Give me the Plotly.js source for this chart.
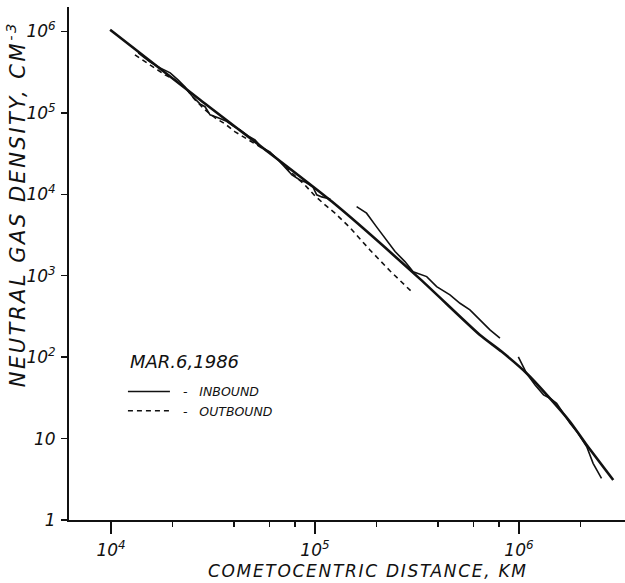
<!DOCTYPE html>
<html><head><meta charset="utf-8">
<script src="https://cdn.plot.ly/plotly-3.0.1.min.js"></script>
<style>
html,body{margin:0;padding:0;background:#fff;}
g.annotation[data-index="1"] text{letter-spacing:1.7px;}
g.annotation[data-index="2"] text{letter-spacing:2.5px;}
</style>
</head><body><div id="chart" style="width:625px;height:583px;"></div>
<script>
// Model (thick smooth line)
const modelDist = [9.9e3, 2.73e4, 1.21e5, 3.27e5, 6.44e5, 8.22e5, 1.09e6, 1.37e6, 1.78e6, 2.15e6, 2.90e6];
const modelDens = [1.05e6, 1.45e5, 8.13e3, 9.14e2, 1.87e2, 1.17e2, 63.4, 34.4, 16.1, 8.34, 3.10];

// Inbound measurements near nucleus (wiggly solid)
const inDist = [1.36e4, 1.55e4, 1.74e4, 1.95e4, 2.13e4, 2.31e4, 2.49e4, 2.73e4, 2.89e4, 3.06e4, 3.35e4, 3.66e4, 3.96e4, 4.29e4, 4.70e4, 5.08e4, 5.50e4, 6.01e4, 6.59e4, 7.13e4, 7.71e4, 8.44e4, 8.93e4, 9.77e4, 1.02e5, 1.08e5, 1.19e5];
const inDens = [5.46e5, 4.24e5, 3.57e5, 3.10e5, 2.54e5, 2.08e5, 1.62e5, 1.29e5, 1.19e5, 9.45e4, 8.68e4, 7.97e4, 6.92e4, 6.18e4, 5.21e4, 4.66e4, 3.72e4, 3.32e4, 2.65e4, 2.11e4, 1.73e4, 1.50e4, 1.42e4, 1.23e4, 9.84e3, 9.29e3, 8.77e3];

// Inbound far segment A
const inFarADist = [1.60e5, 1.79e5, 2.00e5, 2.24e5, 2.47e5, 2.76e5, 3.03e5, 3.53e5, 3.95e5, 4.59e5, 5.14e5, 5.75e5, 6.44e5, 7.21e5, 8.07e5];
const inFarADens = [7.06e3, 5.86e3, 4.01e3, 2.75e3, 1.98e3, 1.49e3, 1.12e3, 975, 735, 581, 459, 380, 286, 216, 171];

// Inbound far segment B
const inFarBDist = [9.93e5, 1.09e6, 1.20e6, 1.32e6, 1.42e6, 1.53e6, 1.65e6, 1.78e6, 1.95e6, 2.15e6, 2.31e6, 2.54e6];
const inFarBDens = [101, 63.4, 45.5, 34.4, 31.3, 27.2, 20.5, 15.4, 11.6, 7.94, 4.97, 3.25];

// Outbound measurements (dashed)
const outDist = [1.31e4, 1.47e4, 1.64e4, 1.84e4, 2.06e4, 2.31e4, 2.58e4, 2.89e4, 3.24e4, 3.62e4, 4.06e4, 4.54e4, 5.08e4, 5.69e4, 6.37e4, 7.13e4, 7.98e4, 8.93e4, 1.00e5, 1.12e5, 1.25e5, 1.49e5, 1.86e5, 2.33e5, 3.02e5];
const outDens = [5.16e5, 4.24e5, 3.57e5, 2.93e5, 2.54e5, 2.03e5, 1.45e5, 1.09e5, 8.68e4, 7.33e4, 5.85e4, 4.93e4, 4.16e4, 3.51e4, 2.88e4, 2.23e4, 1.68e4, 1.30e4, 9.55e3, 7.41e3, 5.90e3, 3.86e3, 2.07e3, 1.15e3, 615];

// Tick labels and texts
const xTickVals = [1e4, 1e5, 1e6];
const xTickText = ["10<sup>4</sup>", "10<sup>5</sup>", "10<sup>6</sup>"];
const xMinorVals = [2e4, 4e4, 6e4, 8e4, 2e5, 4e5, 6e5, 8e5, 2e6];
const yTickVals = [1, 10, 1e2, 1e3, 1e4, 1e5, 1e6];
const yTickText = ["1", "10", "10<sup>2</sup>", "10<sup>3</sup>", "10<sup>4</sup>", "10<sup>5</sup>", "10<sup>6</sup>"];
const xTitle = "COMETOCENTRIC DISTANCE, KM";
const yTitle = "NEUTRAL GAS DENSITY, CM<sup>-3</sup>";
const legendTitle = "MAR.6,1986";
const inName = "\u00a0\u00a0-\u00a0\u00a0\u00a0INBOUND";
const outName = "\u00a0\u00a0-\u00a0\u00a0\u00a0OUTBOUND";

const FONT = "DejaVu Sans, Liberation Sans, sans-serif";
const INK = "#111";

const traces = [
  {x: modelDist, y: modelDens, mode: "lines", line: {color: INK, width: 2.6, shape: "spline", smoothing: 0.6}, showlegend: false, hoverinfo: "skip"},
  {x: inDist, y: inDens, mode: "lines", name: inName, line: {color: INK, width: 1.6}},
  {x: inFarADist, y: inFarADens, mode: "lines", line: {color: INK, width: 1.6}, showlegend: false},
  {x: inFarBDist, y: inFarBDens, mode: "lines", line: {color: INK, width: 1.6}, showlegend: false},
  {x: outDist, y: outDens, mode: "lines", name: outName, line: {color: INK, width: 1.6, dash: "5px,4px"}}
];

const layout = {
  width: 625, height: 583,
  margin: {l: 69, r: 0, t: 7, b: 63},
  paper_bgcolor: "#fff", plot_bgcolor: "#fff",
  font: {family: FONT, color: INK},
  showlegend: true,
  legend: {
    x: 0.097, y: 0.279, xanchor: "left", yanchor: "top",
    bgcolor: "rgba(0,0,0,0)", borderwidth: 0,
    font: {family: FONT, size: 12.5, style: "italic", color: INK},
    tracegroupgap: 0, itemwidth: 42
  },
  annotations: [
    {text: legendTitle, xref: "paper", yref: "paper", x: (128 - 69) / 556, y: (520 - 361) / 513, xanchor: "left", yanchor: "middle", showarrow: false,
     font: {family: FONT, size: 18, style: "italic", color: INK}},
    {text: xTitle, xref: "paper", yref: "paper", x: (368 - 69) / 556, y: (520 - 571) / 513, xanchor: "center", yanchor: "middle", showarrow: false,
     font: {family: FONT, size: 17, style: "italic", color: INK}},
    {text: yTitle, xref: "paper", yref: "paper", x: (16 - 69) / 556, y: (520 - 204) / 513, xanchor: "center", yanchor: "middle", textangle: -90, showarrow: false,
     font: {family: FONT, size: 21, style: "italic", color: INK}}
  ],
  xaxis: {
    type: "log", range: [3.794, 6.52],
    showline: true, linewidth: 2, linecolor: INK, mirror: false,
    showgrid: false, zeroline: false,
    ticks: "outside", ticklen: 12, tickwidth: 1.5, tickcolor: INK,
    tickmode: "array", tickvals: xTickVals, ticktext: xTickText,
    ticklabelstandoff: 2,
    tickfont: {family: FONT, size: 17, style: "italic", color: INK},
    minor: {tickmode: "array", tickvals: xMinorVals, ticks: "outside", ticklen: 5, tickwidth: 1.5, tickcolor: INK, showgrid: false}
  },
  yaxis: {
    type: "log", range: [0, 6.30],
    showline: true, linewidth: 2, linecolor: INK,
    showgrid: false, zeroline: false,
    ticks: "outside", ticklen: 6, tickwidth: 1.5, tickcolor: INK,
    tickmode: "array", tickvals: yTickVals, ticktext: yTickText,
    ticklabelstandoff: 2,
    tickfont: {family: FONT, size: 17, style: "italic", color: INK}
  }
};

Plotly.newPlot("chart", traces, layout, {staticPlot: true, displayModeBar: false});
</script></body></html>
